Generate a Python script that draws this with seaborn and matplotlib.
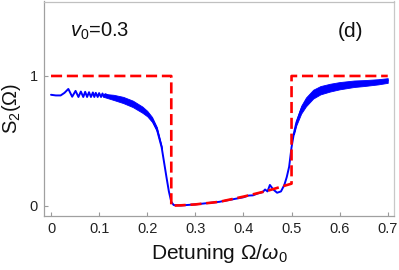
import numpy as np
import pandas as pd
import matplotlib
matplotlib.use("Agg")
import matplotlib.pyplot as plt
import seaborn as sns

# ---- data ----
red_x = [0.0, 0.25, 0.25, 0.27, 0.30, 0.35, 0.40, 0.45, 0.50, 0.50, 0.70]
red_y = [1.0, 1.0, 0.0, 0.003, 0.01, 0.03, 0.07, 0.115, 0.17, 1.0, 1.0]

blue_x = [0.0, 0.01, 0.02, 0.028, 0.036, 0.044, 0.051, 0.057, 0.062, 0.067,
          0.071, 0.075, 0.079, 0.083, 0.087, 0.090, 0.093, 0.097, 0.100, 0.104,
          0.107, 0.110, 0.113, 0.12, 0.14, 0.16, 0.18, 0.20, 0.21, 0.22,
          0.23, 0.24, 0.245, 0.25, 0.255, 0.27, 0.30, 0.35, 0.40, 0.41,
          0.42, 0.43, 0.44, 0.445, 0.45, 0.455, 0.462, 0.47, 0.478, 0.485,
          0.49, 0.495, 0.50, 0.505, 0.51, 0.52, 0.53, 0.545, 0.56, 0.58,
          0.60, 0.63, 0.65, 0.68, 0.70]
blue_y = [0.855, 0.85, 0.85, 0.87, 0.90, 0.84, 0.885, 0.838, 0.88, 0.838,
          0.878, 0.838, 0.875, 0.838, 0.873, 0.838, 0.87, 0.838, 0.868, 0.838,
          0.865, 0.838, 0.86, 0.845, 0.825, 0.80, 0.765, 0.71, 0.665, 0.59,
          0.45, 0.22, 0.11, 0.03, 0.005, 0.002, 0.01, 0.03, 0.065, 0.078,
          0.08, 0.095, 0.105, 0.125, 0.11, 0.16, 0.125, 0.10, 0.11, 0.16,
          0.22, 0.30, 0.45, 0.56, 0.64, 0.74, 0.80, 0.86, 0.89, 0.91,
          0.925, 0.94, 0.945, 0.955, 0.965]

# envelope of the dense oscillations
band1_x = [0.11, 0.13, 0.15, 0.17, 0.19, 0.20, 0.21, 0.22, 0.23]
band1_c = [0.85, 0.835, 0.815, 0.785, 0.74, 0.71, 0.665, 0.59, 0.45]
band1_w = [0.012, 0.02, 0.024, 0.025, 0.024, 0.021, 0.019, 0.016, 0.01]

band2_x = [0.505, 0.51, 0.52, 0.53, 0.545, 0.56, 0.58, 0.60, 0.63, 0.65, 0.68, 0.70]
band2_c = [0.56, 0.64, 0.74, 0.80, 0.86, 0.89, 0.91, 0.925, 0.94, 0.945, 0.955, 0.965]
band2_w = [0.01, 0.02, 0.03, 0.034, 0.034, 0.032, 0.03, 0.028, 0.025, 0.023, 0.02, 0.018]

x_ticks = [0, 0.1, 0.2, 0.3, 0.4, 0.5, 0.6, 0.7]
x_tick_labels = ["0", "0.1", "0.2", "0.3", "0.4", "0.5", "0.6", "0.7"]
y_ticks = [0, 1]
y_tick_labels = ["0", "1"]

# ---- style ----
sns.set_style("ticks")
plt.rcParams["font.family"] = ["Liberation Sans", "DejaVu Sans"]
plt.rcParams["mathtext.fontset"] = "custom"
plt.rcParams["mathtext.rm"] = "Liberation Sans"
plt.rcParams["mathtext.it"] = "Liberation Sans:italic"

fig = plt.figure(figsize=(3.99, 2.70), dpi=100)
ax = fig.add_axes([44 / 399, 1 - 215.7 / 270, 350 / 399, 214.2 / 270])

df_red = pd.DataFrame({"x": red_x, "y": red_y})
df_blue = pd.DataFrame({"x": blue_x, "y": blue_y})

b1c, b1w = np.array(band1_c), np.array(band1_w)
b2c, b2w = np.array(band2_c), np.array(band2_w)
ax.fill_between(band1_x, b1c - b1w, b1c + b1w, color="#0000ff", lw=0.6, zorder=2)
ax.fill_between(band2_x, b2c - b2w, b2c + b2w, color="#0000ff", lw=0.6, zorder=2)

sns.lineplot(data=df_blue, x="x", y="y", sort=False, estimator=None,
             color="#0000ff", lw=1.4, ax=ax, zorder=3)
ax.lines[-1].set_solid_joinstyle("round")
sns.lineplot(data=df_red, x="x", y="y", sort=False, estimator=None,
             color="#ff0000", lw=1.9, ax=ax, zorder=4, dashes=False)
ax.lines[-1].set_linestyle((0, (4.2, 1.8)))

ax.set_xlim(-0.0146, 0.713)
ax.set_ylim(-0.077, 1.574)
ax.set_xticks(x_ticks)
ax.set_xticklabels(x_tick_labels)
ax.set_yticks(y_ticks)
ax.set_yticklabels(y_tick_labels)

ax.tick_params(direction="in", length=3, width=0.8, color="#9a9a9a",
               labelsize=10.5, labelcolor="#222222", pad=4.5)
for s in ax.spines.values():
    s.set_color("#a0a0a0")
    s.set_linewidth(0.9)
ax.spines["top"].set_color("#c0c0c0")
ax.spines["right"].set_color("#c8c8c8")

ax.set_xlabel(r"Detuning $\Omega/\omega_0$", fontsize=15, color="#111111", labelpad=4)
ax.set_ylabel(r"S$_2$($\Omega$)", fontsize=14.5, color="#111111", labelpad=4.5)

ax.text(0.0395, 1.342, r"$v_0$=0.3", fontsize=14.5, va="center", ha="left", color="#111111")
ax.text(0.597, 1.342, "(d)", fontsize=15, va="center", ha="left", color="#111111")

fig.savefig("out.png", dpi=100)
